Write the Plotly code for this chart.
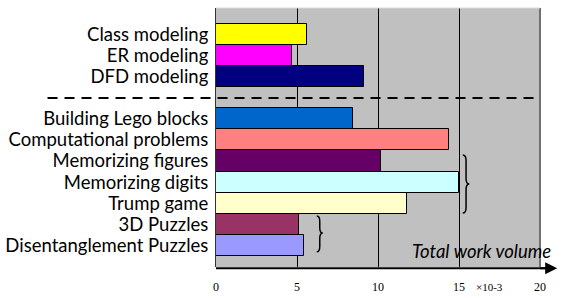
import plotly.graph_objects as go

categories = ["Class modeling", "ER modeling", "DFD modeling", " ",
              "Building Lego blocks", "Computational problems", "Memorizing figures",
              "Memorizing digits", "Trump game", "3D Puzzles", "Disentanglement Puzzles"]
values = [5.6, 4.67, 9.14, None, 8.48, 14.38, 10.16, 15.0, 11.77, 5.1, 5.45]
colors = ["#FFFF00", "#FF00FF", "#000080", "#C0C0C0", "#0066CC", "#FF8080",
          "#660066", "#CCFFFF", "#FFFFCC", "#993366", "#9999FF"]
x_tickvals = [0, 5, 10, 15, 20]
x_ticktext = ["0", "5", "10", "15", "20"]
x_unit = "×10-3"
x_title = "Total work volume"

fig = go.Figure()
fig.add_trace(go.Bar(
    y=categories, x=values, orientation="h",
    marker=dict(color=colors, line=dict(color="black", width=1)),
    width=1.0, hoverinfo="skip", showlegend=False,
))

def brace(x0, x1, y0, y1, ym, d=0.25):
    xm = (x0 + x1) / 2
    return (f"M {x0},{y0} Q {xm},{y0} {xm},{y0+d} L {xm},{ym-d} "
            f"Q {xm},{ym} {x1},{ym} Q {xm},{ym} {xm},{ym+d} "
            f"L {xm},{y1-d} Q {xm},{y1} {x0},{y1}")

shapes = [
    dict(type="line", xref="paper", yref="y", x0=-0.52, x1=0.99, y0=3, y1=3,
         line=dict(color="black", width=2, dash="10px,7px")),
    dict(type="line", xref="paper", yref="paper", x0=1, x1=1, y0=0, y1=1,
         line=dict(color="#707070", width=2)),
    dict(type="line", xref="paper", yref="paper", x0=0, x1=1, y0=1, y1=1,
         line=dict(color="#D8D8D8", width=1)),
    dict(type="line", xref="paper", yref="paper", x0=0, x1=1.03, y0=-0.005, y1=-0.005,
         line=dict(color="black", width=2)),
    dict(type="path", xref="x", yref="y", path=brace(15.23, 15.64, 5.71, 8.47, 7.09),
         line=dict(color="black", width=1.5)),
    dict(type="path", xref="x", yref="y", path=brace(6.22, 6.59, 8.61, 10.31, 9.42),
         line=dict(color="black", width=1.5)),
]

annotations = [
    dict(xref="paper", yref="paper", x=1.053, y=-0.005, ax=-20, ay=0,
         showarrow=True, arrowhead=2, arrowsize=1.2, arrowwidth=2,
         arrowcolor="black", text=" "),
    dict(xref="paper", yref="paper", x=1.04, y=0.06, xanchor="right", yanchor="middle",
         text=f"<i>{x_title}</i>", showarrow=False,
         font=dict(family="Lato", size=18.5, color="black")),
    dict(xref="x", yref="paper", x=16.9, y=-0.078, xanchor="center", yanchor="middle",
         text=x_unit, showarrow=False,
         font=dict(family="Liberation Serif", size=11, color="black")),
]

fig.update_layout(
    width=562, height=298,
    margin=dict(l=216, r=22, t=8, b=31, autoexpand=False),
    paper_bgcolor="white", plot_bgcolor="#C0C0C0",
    shapes=shapes, annotations=annotations,
    xaxis=dict(range=[0, 20], tickmode="array", tickvals=x_tickvals, ticktext=x_ticktext,
               showgrid=True, gridcolor="black", gridwidth=1, zeroline=False,
               showline=False, ticks="outside", ticklen=9, tickcolor="rgba(0,0,0,0)",
               automargin=False,
               tickfont=dict(family="Liberation Serif", size=12, color="black")),
    yaxis=dict(type="category", categoryarray=categories, range=[11.04, -1.275],
               tickmode="array", tickvals=categories, ticktext=categories,
               showgrid=False, zeroline=False, showline=True, linecolor="#333333",
               linewidth=1, ticks="", ticklabelstandoff=3, automargin=False,
               tickfont=dict(family="Lato", size=18.5, color="black")),
    bargap=0,
)

fig.write_html("out.html", config={"displayModeBar": False},
               post_script="document.body.style.margin='0';")
